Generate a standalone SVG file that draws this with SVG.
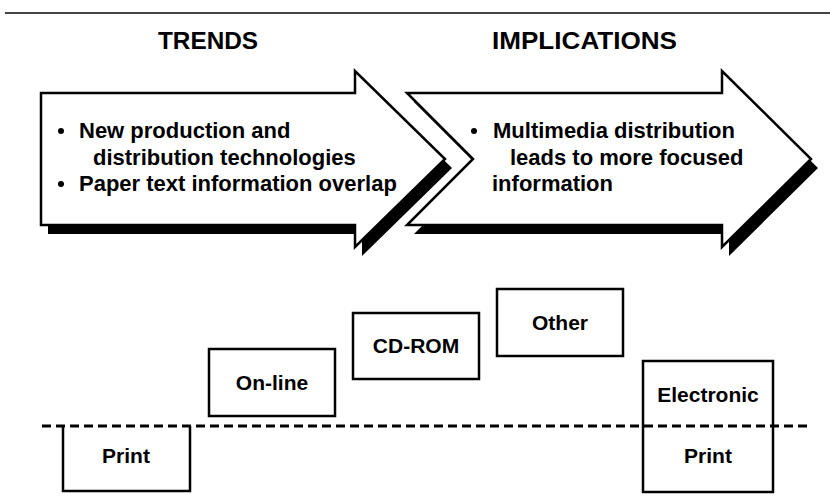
<svg xmlns="http://www.w3.org/2000/svg" width="830" height="496" viewBox="0 0 830 496">
<style>
text{font-family:"Liberation Sans",Arial,Helvetica,sans-serif;fill:#000}
.hdr{font-size:24px;font-weight:bold}
.bul{font-size:22px;font-weight:bold}
.lbl{font-size:21px;font-weight:bold;text-anchor:middle}
.arrow{fill:#fff;stroke:#000;stroke-width:2.5;stroke-linejoin:miter}
.shadow{fill:#000}
.box{fill:#fff;stroke:#000;stroke-width:2.5}
.open{fill:none;stroke:#000;stroke-width:2.5}
</style>
<rect width="830" height="496" fill="#fff"/>
<line x1="5" y1="13" x2="830" y2="13" stroke="#444" stroke-width="2"/>
<text class="hdr" x="158" y="49" textLength="100" lengthAdjust="spacingAndGlyphs">TRENDS</text>
<text class="hdr" x="492" y="49" textLength="185" lengthAdjust="spacingAndGlyphs">IMPLICATIONS</text>
<g id="shadows">
<path class="shadow" transform="translate(7,9)" d="M41,93 H355 V71 L445,159 L355,247 V225 H41 Z"/>
<path class="shadow" transform="translate(7,9)" d="M407,93 H722 V71 L811,159 L722,247 V225 H407 L473,159 Z"/>
</g>
<g id="trends">
<path class="arrow" d="M41,93 H355 V71 L445,159 L355,247 V225 H41 Z"/>
<circle cx="61" cy="131" r="3"/>
<text class="bul" x="79" y="138">New production and</text>
<text class="bul" x="93" y="165">distribution technologies</text>
<circle cx="61" cy="184" r="3"/>
<text class="bul" x="79" y="191">Paper text information overlap</text>
</g>
<g id="implications">
<path class="arrow" d="M407,93 H722 V71 L811,159 L722,247 V225 H407 L473,159 Z"/>
<circle cx="474" cy="131" r="3"/>
<text class="bul" x="493" y="138">Multimedia distribution</text>
<text class="bul" x="510" y="165">leads to more focused</text>
<text class="bul" x="492" y="191">information</text>
</g>
<g id="connectors">
<line x1="42" y1="426" x2="810" y2="426" stroke="#000" stroke-width="3" stroke-dasharray="9 5"/>
</g>
<g id="print">
<path class="open" d="M63,426 V491 H190 V426"/>
<text class="lbl" x="126" y="463">Print</text>
</g>
<g id="online">
<rect class="box" x="209" y="349" width="126" height="67"/>
<text class="lbl" x="272" y="390">On-line</text>
</g>
<g id="cdrom">
<rect class="box" x="353" y="313" width="126" height="66"/>
<text class="lbl" x="416" y="353">CD-ROM</text>
</g>
<g id="other">
<rect class="box" x="497" y="289" width="126" height="67"/>
<text class="lbl" x="560" y="330">Other</text>
</g>
<g id="electronic-print">
<rect class="open" x="643" y="361" width="130" height="131"/>
<text class="lbl" x="708" y="402">Electronic</text>
<text class="lbl" x="708" y="463">Print</text>
</g>
</svg>
